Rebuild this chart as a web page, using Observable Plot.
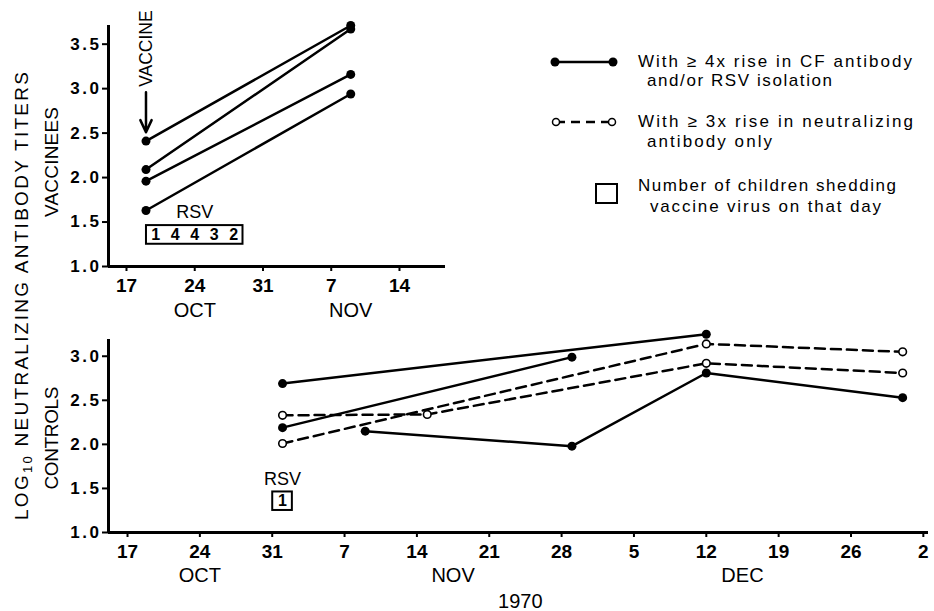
<!DOCTYPE html>
<html>
<head>
<meta charset="utf-8">
<script src="https://cdn.jsdelivr.net/npm/d3@7"></script>
<script src="https://cdn.jsdelivr.net/npm/@observablehq/plot@0.6"></script>
<style>
  body { margin: 0; background: #fff; }
  #wrap { position: relative; width: 934px; height: 611px; font-family: "Liberation Sans", Arial, sans-serif; }
  #top, #bottom { position: absolute; left: 0; }
  #top { top: 0; }
  #bottom { top: 330px; }
  #overlay { position: absolute; left: 0; top: 0; pointer-events: none; }
  svg text { font-family: "Liberation Sans", Arial, sans-serif; }
  g[aria-label="y-axis tick label"] text { font-size: 17px; font-weight: bold; letter-spacing: 2.5px; }
  g[aria-label="x-axis tick label"] text { font-size: 19px; font-weight: bold; }
</style>
</head>
<body>
<div id="wrap">
  <div id="top"></div>
  <div id="bottom"></div>
  <svg id="overlay" width="934" height="611" xmlns="http://www.w3.org/2000/svg">
    <!-- axis titles -->
    <text transform="translate(28,296) rotate(-90)" text-anchor="middle" font-size="19" textLength="448" lengthAdjust="spacing">LOG<tspan font-size="13" dy="4">10</tspan><tspan dy="-4"> NEUTRALIZING ANTIBODY TITERS</tspan></text>
    <text transform="translate(58,162) rotate(-90)" text-anchor="middle" font-size="19" textLength="110" lengthAdjust="spacing">VACCINEES</text>
    <text transform="translate(58,438) rotate(-90)" text-anchor="middle" font-size="19" textLength="103" lengthAdjust="spacing">CONTROLS</text>
    <!-- legend -->
    <line x1="555" y1="62" x2="613" y2="62" stroke="#000" stroke-width="2.5"/>
    <circle cx="555" cy="62" r="4.5" fill="#000"/>
    <circle cx="613" cy="62" r="4.5" fill="#000"/>
    <text x="638" y="67" font-size="17" textLength="274" lengthAdjust="spacing">With ≥ 4x rise in CF antibody</text>
    <text x="647" y="86" font-size="17" textLength="185" lengthAdjust="spacing">and/or RSV isolation</text>
    <line x1="556" y1="122" x2="612" y2="122" stroke="#000" stroke-width="2.5" stroke-dasharray="9,6"/>
    <circle cx="556" cy="122" r="3.5" fill="#fff" stroke="#000" stroke-width="1.5"/>
    <circle cx="612" cy="122" r="3.5" fill="#fff" stroke="#000" stroke-width="1.5"/>
    <text x="638" y="127" font-size="17" textLength="275" lengthAdjust="spacing">With ≥ 3x rise in neutralizing</text>
    <text x="647" y="147" font-size="17" textLength="125" lengthAdjust="spacing">antibody only</text>
    <rect x="596" y="184" width="21" height="19" fill="none" stroke="#000" stroke-width="2"/>
    <text x="638" y="191" font-size="17" textLength="258" lengthAdjust="spacing">Number of children shedding</text>
    <text x="650" y="212" font-size="17" textLength="231" lengthAdjust="spacing">vaccine virus on that day</text>
  </svg>
</div>
<script>
// ---------------- data ----------------
const vaccineeDates = ["1970-10-19", "1970-11-09"];
const vaccineeTiters = [
  [2.41, 3.71],
  [2.09, 3.67],
  [1.96, 3.16],
  [1.63, 2.94]
];

const controlTypes = ["cf", "cf", "cf", "neut", "neut"];
const controlDates = [
  ["1970-11-01", "1970-12-12"],
  ["1970-11-01", "1970-11-29"],
  ["1970-11-09", "1970-11-29", "1970-12-12", "1970-12-31"],
  ["1970-11-01", "1970-11-15", "1970-12-12", "1970-12-31"],
  ["1970-11-01", "1970-12-12", "1970-12-31"]
];
const controlTiters = [
  [2.69, 3.25],
  [2.19, 2.99],
  [2.15, 1.98, 2.81, 2.53],
  [2.33, 2.34, 2.92, 2.81],
  [2.01, 3.14, 3.05]
];

const shedVaccDates = ["1970-10-20", "1970-10-22", "1970-10-24", "1970-10-26", "1970-10-28"];
const shedVaccCounts = [1, 4, 4, 3, 2];
const shedCtrlDates = ["1970-11-01"];
const shedCtrlCounts = [1];

const vaccineDate = "1970-10-19";

const topTickDates = ["1970-10-17", "1970-10-24", "1970-10-31", "1970-11-07", "1970-11-14"];
const bottomTickDates = ["1970-10-17", "1970-10-24", "1970-10-31", "1970-11-07", "1970-11-14", "1970-11-21",
  "1970-11-28", "1970-12-05", "1970-12-12", "1970-12-19", "1970-12-26", "1971-01-02"];
const topYTicks = [1.0, 1.5, 2.0, 2.5, 3.0, 3.5];
const bottomYTicks = [1.0, 1.5, 2.0, 2.5, 3.0];

const topMonthLabels = ["OCT", "NOV"];
const topMonthDates = ["1970-10-24T00:00", "1970-11-09T00:00"];
const bottomMonthLabels = ["OCT", "NOV", "DEC"];
const bottomMonthDates = ["1970-10-24T00:00", "1970-11-17T12:00", "1970-12-15T12:00"];
const yearLabel = "1970";
const yearDate = "1970-11-24T00:00";

// ---------------- helpers ----------------
const parse = s => new Date((s.includes("T") ? s : s + "T00:00") + ":00Z");
const addDays = (d, n) => new Date(d.getTime() + n * 864e5);
const fmt = d3.format(".1f");
const FONT = "Liberation Sans, Arial, sans-serif";

const vaccRows = vaccineeTiters.flatMap((vals, i) =>
  vals.map((t, j) => ({id: i, date: parse(vaccineeDates[j]), titer: t})));
const ctrlRows = controlTiters.flatMap((vals, i) =>
  vals.map((t, j) => ({id: i, type: controlTypes[i], date: parse(controlDates[i][j]), titer: t})));
const shedVacc = shedVaccDates.map((d, i) => ({date: parse(d), count: shedVaccCounts[i]}));
const shedCtrl = shedCtrlDates.map((d, i) => ({date: parse(d), count: shedCtrlCounts[i]}));

function shedMarks(rows) {
  const first = rows[0].date, last = rows[rows.length - 1].date;
  const box = {x1: addDays(first, -0.95), x2: addDays(last, 0.95), mid: new Date((first.getTime() + last.getTime()) / 2)};
  return [
    Plot.rect([box], {x1: "x1", x2: "x2", y1: () => 1.25, y2: () => 1.46, fill: "none", stroke: "black", strokeWidth: 2}),
    Plot.text(rows, {x: "date", y: () => 1.355, text: d => String(d.count), fontSize: 16, fontWeight: "bold"}),
    Plot.text([box], {x: "mid", y: () => 1.61, text: () => "RSV", fontSize: 18})
  ];
}

function axes(xTicks, yTicks, xmin) {
  return [
    Plot.axisX({ticks: xTicks.map(parse), tickFormat: d => String(d.getUTCDate()), tickSize: 5, tickPadding: 7,
      fontSize: 19, fontWeight: "bold", strokeWidth: 2, label: null}),
    Plot.axisY({ticks: yTicks, tickFormat: fmt, tickSize: 6, tickPadding: 1,
      fontSize: 17, fontWeight: "bold", strokeWidth: 2, label: null}),
    Plot.ruleX([xmin], {strokeWidth: 3}),
    Plot.ruleY([1], {strokeWidth: 3})
  ];
}

// ---------------- top panel (vaccinees) ----------------
const topXmin = new Date(Date.UTC(1970, 9, 15, 3, 43));
const topXmax = new Date(Date.UTC(1970, 10, 18, 17, 17));
const vDate = parse(vaccineDate);

const topPlot = Plot.plot({
  width: 460, height: 330,
  marginLeft: 108, marginRight: 15, marginTop: 25, marginBottom: 64,
  x: {type: "utc", domain: [topXmin, topXmax], label: null},
  y: {domain: [1, 3.71], label: null},
  style: {fontFamily: FONT, background: "transparent", overflow: "visible", color: "black"},
  marks: [
    ...axes(topTickDates, topYTicks, topXmin),
    Plot.text(topMonthLabels, {x: (d, i) => parse(topMonthDates[i]), text: d => d, frameAnchor: "bottom", lineAnchor: "top", dy: 36, fontSize: 20}),
    Plot.line(vaccRows, {x: "date", y: "titer", z: "id", stroke: "black", strokeWidth: 2.5}),
    Plot.dot(vaccRows, {x: "date", y: "titer", r: 4.5, fill: "black"}),
    Plot.arrow([vDate], {x1: d => d, x2: d => d, y1: () => 2.96, y2: () => 2.51, strokeWidth: 2.5, headLength: 10, headAngle: 50}),
    Plot.text([vDate], {x: d => d, y: () => 3.02, text: () => "VACCINE", rotate: -90, textAnchor: "start", fontSize: 17.5}),
    ...shedMarks(shedVacc)
  ]
});
document.getElementById("top").appendChild(topPlot);

// ---------------- bottom panel (controls) ----------------
const botXmin = new Date(Date.UTC(1970, 9, 15, 3, 50));
const botXmax = new Date(Date.UTC(1971, 0, 2, 12, 0));
const cfRows = ctrlRows.filter(d => d.type === "cf");
const neutRows = ctrlRows.filter(d => d.type === "neut");

const bottomPlot = Plot.plot({
  width: 934, height: 281,
  marginLeft: 108, marginRight: 6, marginTop: 9, marginBottom: 79,
  x: {type: "utc", domain: [botXmin, botXmax], label: null},
  y: {domain: [1, 3.19], label: null},
  style: {fontFamily: FONT, background: "transparent", overflow: "visible", color: "black"},
  marks: [
    ...axes(bottomTickDates, bottomYTicks, botXmin),
    Plot.text(bottomMonthLabels, {x: (d, i) => parse(bottomMonthDates[i]), text: d => d, frameAnchor: "bottom", lineAnchor: "top", dy: 35, fontSize: 20}),
    Plot.text([yearLabel], {x: () => parse(yearDate), text: d => d, frameAnchor: "bottom", lineAnchor: "top", dy: 61, fontSize: 20}),
    Plot.line(cfRows, {x: "date", y: "titer", z: "id", stroke: "black", strokeWidth: 2.5}),
    Plot.line(neutRows, {x: "date", y: "titer", z: "id", stroke: "black", strokeWidth: 2.5, strokeDasharray: "10,6"}),
    Plot.dot(cfRows, {x: "date", y: "titer", r: 4.5, fill: "black"}),
    Plot.dot(neutRows, {x: "date", y: "titer", r: 3.8, fill: "white", stroke: "black", strokeWidth: 1.6}),
    ...shedMarks(shedCtrl)
  ]
});
document.getElementById("bottom").appendChild(bottomPlot);
</script>
</body>
</html>
